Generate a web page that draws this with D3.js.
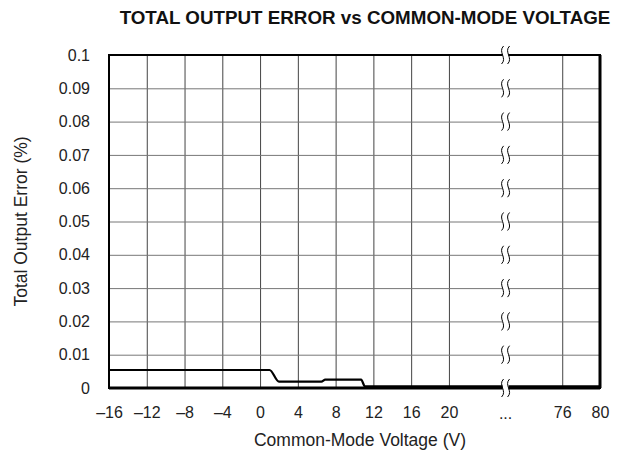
<!DOCTYPE html>
<html>
<head>
<meta charset="utf-8">
<script src="https://cdn.jsdelivr.net/npm/d3@7"></script>
<style>
  body { margin: 0; background: #fff; }
  svg { font-family: "Liberation Sans", Arial, sans-serif; }
</style>
</head>
<body>
<svg width="634" height="460"></svg>
<script>
// values
const voltage = [-16, 1.0, 2.0, 6.5, 6.9, 10.7, 11.1, 80];
const errorPct = [0.0054, 0.0054, 0.0019, 0.0019, 0.0025, 0.0025, 0.0005, 0.0005];
const xTicks = [-16, -12, -8, -4, 0, 4, 8, 12, 16, 20, 76, 80];
const yTicks = [0, 0.01, 0.02, 0.03, 0.04, 0.05, 0.06, 0.07, 0.08, 0.09, 0.1];
const breakAt = 48;      // axis break between 20 and 76
const breakLabel = "...";

const width = 634, height = 460;
const margin = {top: 55, right: 34, bottom: 72, left: 109};
const plotW = width - margin.left - margin.right,
      plotH = height - margin.top - margin.bottom;

const svg = d3.select("svg");
const g = svg.append("g").attr("transform", `translate(${margin.left},${margin.top})`);

// broken axis: 13 equal slots, -16..20 on the first 9, 76..80 on the last
const step = plotW / 13;
const x = d3.scaleLinear().domain([-16, 20, 76, 80]).range([0, 9 * step, 12 * step, 13 * step]);
const y = d3.scaleLinear().domain([0, 0.1]).range([plotH, 0]);

const fmtX = d => d < 0 ? "\u2013" + Math.abs(d) : String(d);
const fmtY = d => d === 0 ? "0" : d3.format("~g")(d);

// vertical grid
g.append("g")
  .attr("transform", `translate(0,${plotH})`)
  .call(d3.axisBottom(x).tickValues(xTicks).tickSize(-plotH).tickFormat(fmtX).tickPadding(19))
  .call(a => a.select(".domain").remove())
  .call(a => a.selectAll("line").attr("stroke", "#444").attr("stroke-width", 1))
  .call(a => a.selectAll("text").attr("font-size", 16).attr("fill", "#222"));

// horizontal grid
g.append("g")
  .call(d3.axisLeft(y).tickValues(yTicks).tickSize(-plotW).tickFormat(fmtY).tickPadding(19))
  .call(a => a.select(".domain").remove())
  .call(a => a.selectAll("line").attr("stroke", "#777").attr("stroke-width", 1))
  .call(a => a.selectAll("text").attr("font-size", 16).attr("fill", "#222"));

// break label on x axis
g.append("text")
  .attr("x", x(breakAt))
  .attr("y", plotH + 31)
  .attr("text-anchor", "middle")
  .attr("font-size", 16)
  .attr("fill", "#222")
  .text(breakLabel);

// frame
g.append("rect")
  .attr("width", plotW).attr("height", plotH)
  .attr("fill", "none").attr("stroke", "#000").attr("stroke-width", 2);
g.append("line")
  .attr("x1", plotW).attr("x2", plotW).attr("y1", 0).attr("y2", plotH)
  .attr("stroke", "#000").attr("stroke-width", 3);
g.append("line")
  .attr("x1", 0).attr("x2", plotW).attr("y1", plotH).attr("y2", plotH)
  .attr("stroke", "#000").attr("stroke-width", 3);

// data line
const pts = voltage.map((v, i) => [v, errorPct[i]]);
g.append("path")
  .datum(pts)
  .attr("fill", "none")
  .attr("stroke", "#000")
  .attr("stroke-width", 2.2)
  .attr("stroke-linejoin", "round")
  .attr("d", d3.line().x(d => x(d[0])).y(d => y(d[1])).curve(d3.curveMonotoneX));

// break marks on every horizontal line
const bx = x(breakAt);
const marks = g.append("g");
yTicks.forEach(t => {
  const yy = y(t);
  marks.append("rect")
    .attr("x", bx - 3).attr("y", yy - 3).attr("width", 6).attr("height", 6)
    .attr("fill", "#fff");
  [-3, 3].forEach(dx => {
    const cx = bx + dx;
    marks.append("path")
      .attr("d", `M${cx + 1},${yy - 9} C${cx - 5},${yy - 3} ${cx + 5},${yy + 3} ${cx - 1},${yy + 9}`)
      .attr("fill", "none").attr("stroke", "#000").attr("stroke-width", 1);
  });
});

// title
svg.append("text")
  .attr("x", 365).attr("y", 24)
  .attr("text-anchor", "middle")
  .attr("font-size", 18.8)
  .attr("font-weight", "bold")
  .attr("fill", "#111")
  .text("TOTAL OUTPUT ERROR vs COMMON-MODE VOLTAGE");

// axis labels
svg.append("text")
  .attr("x", 360).attr("y", 446)
  .attr("text-anchor", "middle")
  .attr("font-size", 17.5)
  .attr("fill", "#222")
  .text("Common-Mode Voltage (V)");

svg.append("text")
  .attr("transform", `translate(27,${margin.top + plotH / 2}) rotate(-90)`)
  .attr("text-anchor", "middle")
  .attr("font-size", 17.5)
  .attr("fill", "#222")
  .text("Total Output Error (%)");
</script>
</body>
</html>
